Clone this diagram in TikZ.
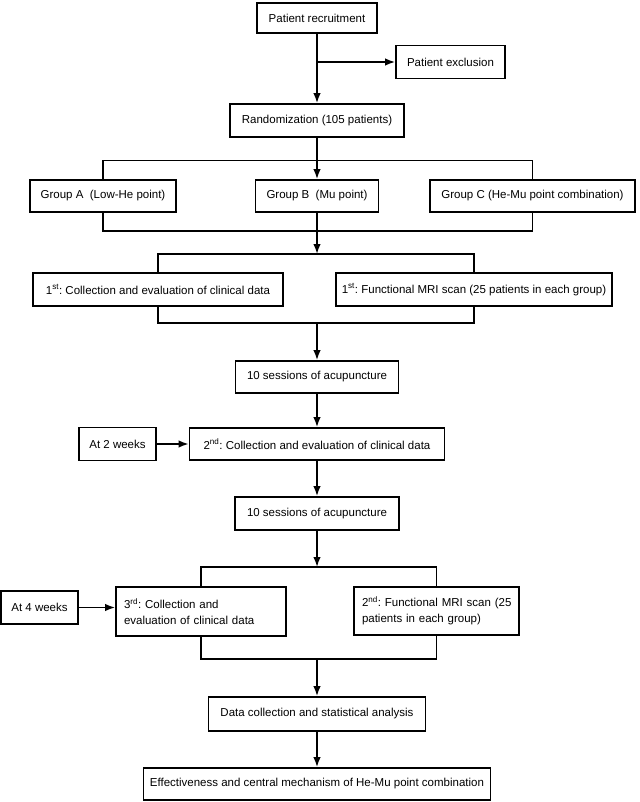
\documentclass[tikz,border=0pt]{standalone}
\usepackage{fontspec}
\setmainfont{Liberation Sans}
\usepackage{tikz}
\usetikzlibrary{arrows.meta}
\frenchspacing

\begin{document}
\begin{tikzpicture}[x=1pt, y=-1pt,
    box/.style={draw=black, line width=1.8pt, fill=white, inner sep=0pt,
      minimum height=32pt, font=\fontsize{11.5}{16}\selectfont},
    twoline/.style={box, align=left, inner xsep=8pt},
    link/.style={draw=black, line width=1.6pt},
    arr/.style={link, -{Latex[length=10pt, width=7.5pt]}}]
  \useasboundingbox (0,0) rectangle (639,802);

  % top: recruitment and randomization
  \node[box, minimum width=120pt, minimum height=30pt] (recruit) at (317,18) {Patient recruitment};
  \node[box, minimum width=109pt, minimum height=33pt] (exclude) at (450.5,62) {Patient exclusion};
  \node[box, minimum width=174pt, minimum height=33pt] (rand) at (317,120.5) {Randomization (105 patients)};
  \coordinate (split) at (317,62);

  % groups
  \node[box, minimum width=146pt] (grpA) at (103,196) {Group A\ \ (Low-He point)};
  \node[box, minimum width=123pt] (grpB) at (317,196) {Group B\ \ (Mu point)};
  \node[box, minimum width=205pt] (grpC) at (532.5,196) {Group C (He-Mu point combination)};
  \coordinate (grpTop) at (317,160.7);
  \coordinate (grpBot) at (317,230.7);

  % first evaluation
  \node[box, minimum width=250pt, minimum height=33pt] (clin1) at (158,289.5) {1\textsuperscript{st}: Collection and evaluation of clinical data};
  \node[box, minimum width=276pt, minimum height=33pt] (mri1) at (474,289.5) {1\textsuperscript{st}: Functional MRI scan (25 patients in each group)};
  \coordinate (firstTop) at (317,254);
  \coordinate (firstBot) at (317,323);

  % 2 weeks
  \node[box, minimum width=163pt] (sess1) at (317,377) {10 sessions of acupuncture};
  \node[box, minimum width=255pt] (clin2) at (317,444) {2\textsuperscript{nd}: Collection and evaluation of clinical data};
  \node[box, minimum width=77pt, minimum height=33pt] (wk2) at (117.5,444) {At 2 weeks};

  % 4 weeks
  \node[box, minimum width=164pt, minimum height=33pt] (sess2) at (317,513.5) {10 sessions of acupuncture};
  \node[twoline, text width=154pt, minimum height=49pt] (clin3) at (201,611.5) {\mbox{3\textsuperscript{rd}: Collection and}\\\mbox{evaluation of clinical data}};
  \node[twoline, text width=149pt, minimum height=48pt] (mri2) at (436.5,611) {\mbox{2\textsuperscript{nd}: Functional MRI scan (25}\\\mbox{patients in each group)}};
  \node[box, minimum width=77pt, minimum height=33pt] (wk4) at (39.5,607.5) {At 4 weeks};
  \coordinate (thirdTop) at (317,567);
  \coordinate (thirdBot) at (317,659);

  % results
  \node[box, minimum width=217pt, minimum height=34pt] (data) at (317,714) {Data collection and statistical analysis};
  \node[box, minimum width=347pt] (final) at (317,784) {Effectiveness and central mechanism of He-Mu point combination};

  % connectors
  \draw[arr] (recruit) -- (rand);
  \draw[arr] (split) -- (exclude.west);

  \draw[link] (grpA.north) |- (grpTop) -| (grpC.north);
  \draw[arr] (rand) -- (grpB);
  \draw[link] (grpA.south) |- (grpBot) -| (grpC.south);
  \draw[arr] (grpB.south) -- (firstTop);

  \draw[link] (clin1.north) |- (firstTop) -| (mri1.north);
  \draw[link] (clin1.south) |- (firstBot) -| (mri1.south);
  \draw[arr] (firstBot) -- (sess1);

  \draw[arr] (sess1) -- (clin2);
  \draw[arr] (wk2) -- (clin2);
  \draw[arr] (clin2) -- (sess2);
  \draw[arr] (sess2) -- (thirdTop);

  \draw[link] (clin3.north) |- (thirdTop) -| (mri2.north);
  \draw[link] (clin3.south) |- (thirdBot) -| (mri2.south);
  \draw[arr] (wk4.east) -- (wk4.east -| clin3.west);

  \draw[arr] (thirdBot) -- (data);
  \draw[arr] (data) -- (final);
\end{tikzpicture}
\end{document}
